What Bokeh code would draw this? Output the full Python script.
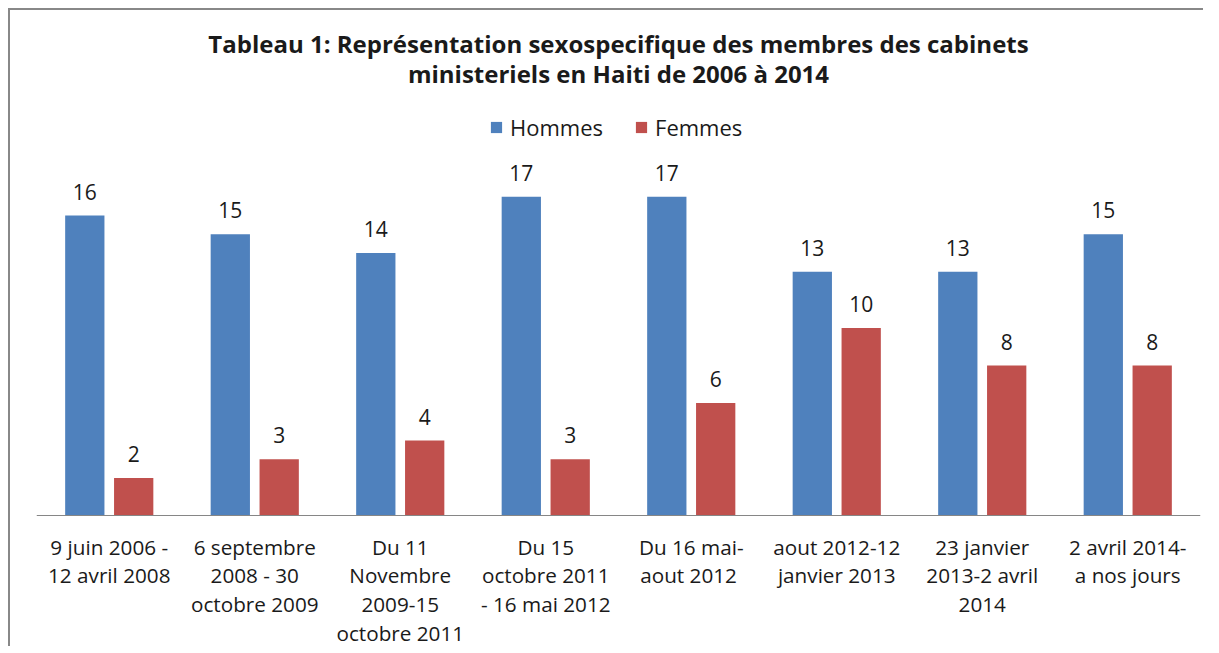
from bokeh.plotting import figure
from bokeh.models import ColumnDataSource, FactorRange, Label, Legend, LegendItem, Span
from bokeh.transform import dodge
from bokeh.core.properties import value
from bokeh.embed import file_html
from bokeh.resources import INLINE

categories = [
    "9 juin 2006 -\n12 avril 2008",
    "6 septembre\n2008 - 30\noctobre 2009",
    "Du 11\nNovembre\n2009-15\noctobre 2011",
    "Du 15\noctobre 2011\n- 16 mai 2012",
    "Du 16 mai-\naout  2012",
    "aout 2012-12\njanvier 2013",
    "23 janvier\n2013-2 avril\n2014",
    "2 avril 2014-\na nos jours",
]
hommes = [16, 15, 14, 17, 17, 13, 13, 15]
femmes = [2, 3, 4, 3, 6, 10, 8, 8]
series_names = ["Hommes", "Femmes"]
title_lines = [
    "Tableau 1: Représentation sexospecifique des membres des cabinets",
    "ministeriels en Haiti de 2006 à 2014",
]

BLUE = "#4F81BD"
RED = "#C0504D"
FONT = "Open Sans"
TXT = "#1a1a1a"

PX = 18.75          # pixels per unit on the value axis
H = 638
BASE = 505          # baseline position from the top of the figure

src = ColumnDataSource(dict(
    cat=categories,
    hommes=hommes,
    femmes=femmes,
    hl=[str(v) for v in hommes],
    fl=[str(v) for v in femmes],
    zero=[0] * len(categories),
))

p = figure(
    x_range=FactorRange(*categories, range_padding=0),
    y_range=(-(H - BASE) / PX, BASE / PX),
    width=1200, height=H,
    output_backend="svg", toolbar_location=None,
    min_border_left=26, min_border_right=10,
    min_border_top=0, min_border_bottom=0,
    x_axis_location=None, y_axis_location=None,
)
p.styles = {
    "margin-left": "8px", "margin-top": "8px",
    "border-left": "2px solid #888888", "border-top": "2px solid #888888",
    "clip-path": "inset(0px 5px 0px 0px)",
}
p.outline_line_color = None
p.xgrid.grid_line_color = None
p.ygrid.grid_line_color = None
p.background_fill_color = "white"
p.border_fill_color = "white"

rh = p.vbar(x=dodge("cat", -0.168, range=p.x_range), top="hommes", width=0.27,
            source=src, fill_color=BLUE, line_color=None)
rf = p.vbar(x=dodge("cat", 0.168, range=p.x_range), top="femmes", width=0.27,
            source=src, fill_color=RED, line_color=None)

p.text(x=dodge("cat", -0.168, range=p.x_range), y="hommes", text="hl", source=src,
       text_align="center", text_baseline="middle", y_offset=-24,
       text_font=value(FONT), text_font_size="21px", text_color=TXT)
p.text(x=dodge("cat", 0.168, range=p.x_range), y="femmes", text="fl", source=src,
       text_align="center", text_baseline="middle", y_offset=-24,
       text_font=value(FONT), text_font_size="21px", text_color=TXT)

# category axis: baseline and labels
p.add_layout(Span(location=0, dimension="width", line_color="#868686", line_width=1))
p.text(x="cat", y="zero", text="cat", source=src,
       text_align="center", text_baseline="top", y_offset=17,
       text_font=value(FONT), text_font_size="20.7px", text_color=TXT,
       text_line_height=1.03)

for yv, t in zip([(BASE - 33) / PX, (BASE - 63) / PX], title_lines):
    p.add_layout(Label(x=4.0, y=yv, text=t, text_align="center", text_baseline="middle",
                       text_font=FONT, text_font_size="24px", text_font_style="bold",
                       text_color=TXT))

legend = Legend(
    items=[LegendItem(label=series_names[0], renderers=[rh]),
           LegendItem(label=series_names[1], renderers=[rf])],
    orientation="horizontal", location=(453, H - 121 - 11),
    glyph_width=14, glyph_height=14, label_standoff=7, spacing=31,
    padding=0, margin=0, border_line_color=None, background_fill_alpha=0,
    label_text_font=FONT, label_text_font_size="22px", label_text_color=TXT,
    label_height=22,
)
p.add_layout(legend, "center")

open("out.html", "w").write(file_html(p, INLINE))
